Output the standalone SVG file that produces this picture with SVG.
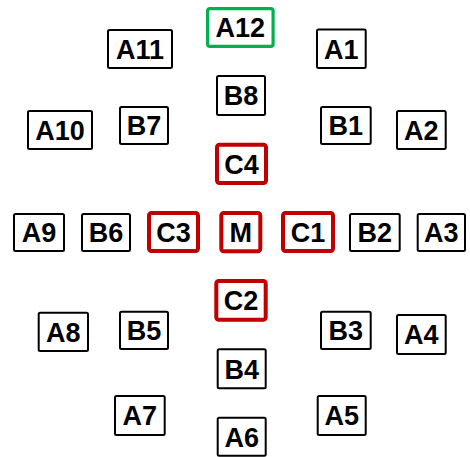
<svg xmlns="http://www.w3.org/2000/svg" width="470" height="457" viewBox="0 0 470 457">
  <style>
    rect { fill: #ffffff; }
    .a { stroke: #000000; stroke-width: 2; rx: 1.5; }
    .c { stroke: #c00000; stroke-width: 4; rx: 2.5; }
    .g { stroke: #00b050; stroke-width: 3.2; rx: 2.5; }
    text { font-family: "Liberation Sans", Arial, sans-serif; font-weight: bold; font-size: 27px; fill: #000000; text-anchor: middle; }
  </style>
  <rect x="0" y="0" width="470" height="457" style="fill:#ffffff"/>

  <!-- outer ring -->
  <g id="A12"><rect class="g" x="207.6" y="8.6" width="65.5" height="37.8"/><text x="240.3" y="37.3">A12</text></g>
  <g id="A1"><rect class="a" x="317" y="29.5" width="48.7" height="38.5"/><text x="341.3" y="58.6">A1</text></g>
  <g id="A2"><rect class="a" x="397" y="111" width="48.7" height="38"/><text x="421.3" y="139.8">A2</text></g>
  <g id="A3"><rect class="a" x="417.7" y="214" width="47.3" height="37"/><text x="441.3" y="242.1">A3</text></g>
  <g id="A4"><rect class="a" x="397" y="315" width="48.7" height="39"/><text x="421.3" y="344.3">A4</text></g>
  <g id="A5"><rect class="a" x="317.7" y="396" width="48" height="39"/><text x="341.7" y="425.3">A5</text></g>
  <g id="A6"><rect class="a" x="217.7" y="417.7" width="48" height="38"/><text x="241.7" y="446.5">A6</text></g>
  <g id="A7"><rect class="a" x="115" y="396" width="49.7" height="39"/><text x="139.8" y="425.3">A7</text></g>
  <g id="A8"><rect class="a" x="38.7" y="312.7" width="49.3" height="38.3"/><text x="63.3" y="341.6">A8</text></g>
  <g id="A9"><rect class="a" x="14" y="214" width="50" height="37"/><text x="39" y="242.1">A9</text></g>
  <g id="A10"><rect class="a" x="28" y="111" width="64" height="38"/><text x="60" y="139.8">A10</text></g>
  <g id="A11"><rect class="a" x="108" y="30" width="64" height="38"/><text x="140" y="58.8">A11</text></g>

  <!-- middle ring -->
  <g id="B8"><rect class="a" x="217" y="76" width="48" height="39"/><text x="241" y="105.3">B8</text></g>
  <g id="B1"><rect class="a" x="321" y="107" width="49.7" height="37"/><text x="345.8" y="135.3">B1</text></g>
  <g id="B2"><rect class="a" x="350" y="214" width="49.7" height="37"/><text x="374.8" y="242.1">B2</text></g>
  <g id="B3"><rect class="a" x="321" y="311.7" width="49.7" height="37.3"/><text x="345.8" y="340.1">B3</text></g>
  <g id="B4"><rect class="a" x="217.7" y="349.3" width="48" height="39"/><text x="241.7" y="378.6">B4</text></g>
  <g id="B5"><rect class="a" x="120" y="311.7" width="48" height="37.3"/><text x="144" y="340.1">B5</text></g>
  <g id="B6"><rect class="a" x="82" y="214" width="48" height="37"/><text x="106" y="242.1">B6</text></g>
  <g id="B7"><rect class="a" x="120" y="107" width="48" height="37"/><text x="144" y="135.3">B7</text></g>

  <!-- inner ring -->
  <g id="C4"><rect class="c" x="217" y="144.7" width="49" height="38.3"/><text x="241.5" y="173.7">C4</text></g>
  <g id="C1"><rect class="c" x="283" y="213" width="50" height="38"/><text x="308" y="242.1">C1</text></g>
  <g id="C2"><rect class="c" x="216.3" y="281" width="49.4" height="38.7"/><text x="241" y="310.1">C2</text></g>
  <g id="C3"><rect class="c" x="149" y="213" width="49" height="38"/><text x="173.5" y="242.1">C3</text></g>

  <!-- centre -->
  <g id="M"><rect class="c" x="221.3" y="213" width="39" height="38.3"/><text x="240.8" y="242.1">M</text></g>
</svg>
